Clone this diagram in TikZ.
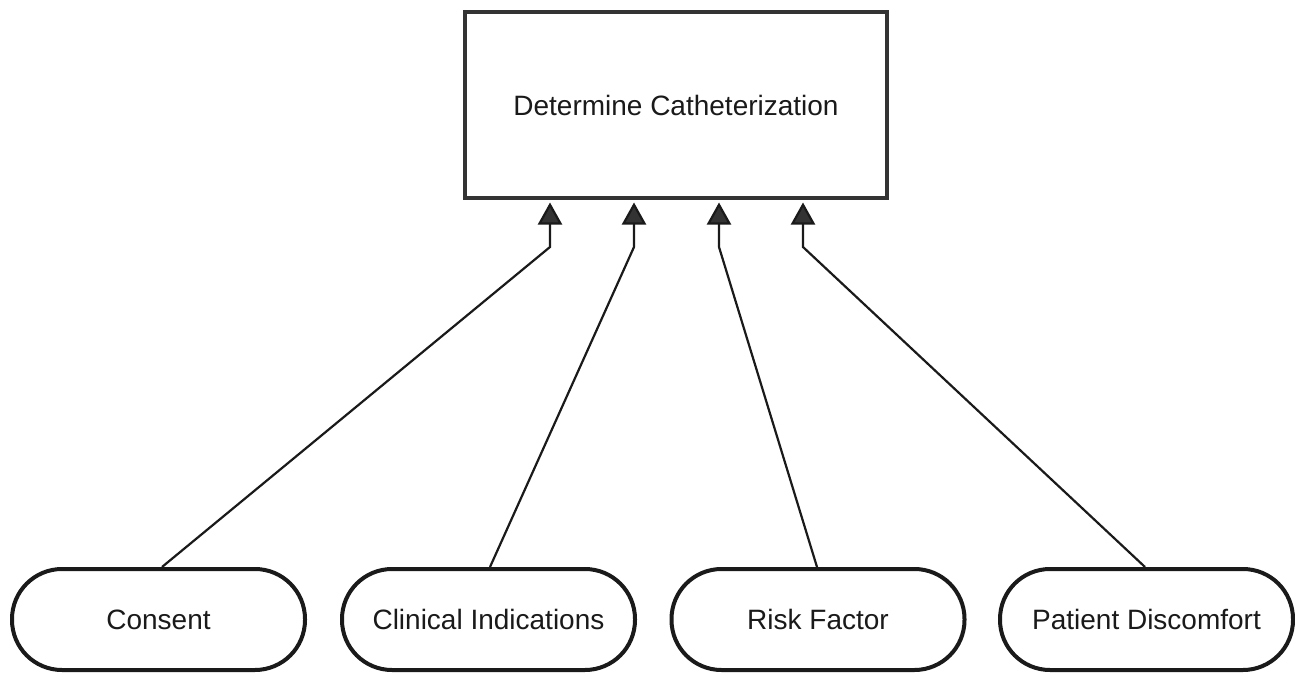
\documentclass[tikz,border=0pt]{standalone}
\usepackage{fontspec}
\setmainfont{Liberation Sans}
\usetikzlibrary{arrows.meta}
\definecolor{edge}{HTML}{333333}
\definecolor{ink}{HTML}{1A1A1A}
\tikzset{
  topbox/.style={draw=edge, line width=4pt, fill=white, minimum width=422pt, minimum height=186pt, inner sep=0pt, font=\fontsize{28pt}{32pt}\selectfont, text=ink},
  pill/.style={draw=ink, line width=4pt, fill=white, rounded corners=50pt, minimum width=293pt, minimum height=101pt, inner sep=0pt, font=\fontsize{28pt}{32pt}\selectfont, text=ink},
  link/.style={draw=ink, line width=2.2pt, -{Triangle[length=22pt,width=24pt,fill=edge]}, shorten >=2.5pt, line join=miter}
}
\begin{document}
\begin{tikzpicture}[x=1pt,y=-1pt]
\useasboundingbox (0,0) rectangle (1295,674);
\node[topbox] (det) at (676,105) {Determine Catheterization};
\node[pill] (consent) at (158.5,619.5) {Consent};
\node[pill] (clin) at (488.5,619.5) {Clinical Indications};
\node[pill] (risk) at (818,619.5) {Risk Factor};
\node[pill] (pat) at (1146.5,619.5) {Patient Discomfort};
\coordinate (b1) at (550,247);
\coordinate (b2) at (634,247);
\coordinate (b3) at (719,247);
\coordinate (b4) at (803,247);
\draw[link] ([xshift=3.5pt]consent.north) -- (b1) -- (b1 |- det.south);
\draw[link] ([xshift=1.5pt]clin.north) -- (b2) -- (b2 |- det.south);
\draw[link] ([xshift=-1pt]risk.north) -- (b3) -- (b3 |- det.south);
\draw[link] ([xshift=-1.5pt]pat.north) -- (b4) -- (b4 |- det.south);
\end{tikzpicture}
\end{document}
